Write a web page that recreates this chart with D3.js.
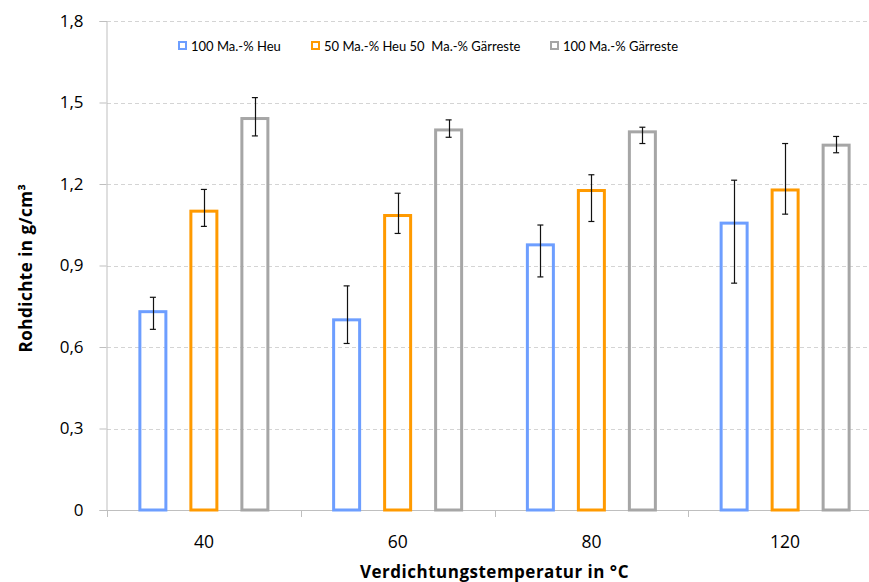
<!DOCTYPE html>
<html>
<head>
<meta charset="utf-8">
<script src="https://cdn.jsdelivr.net/npm/d3@7"></script>
<style>
  body { margin: 0; background: #fff; overflow: hidden; }
  svg { font-family: "Open Sans", Lato, sans-serif; display: block; }
</style>
</head>
<body>
<div id="chart"></div>
<script>
// data
var categories = ["40", "60", "80", "120"];
var seriesNames = ["100 Ma.-% Heu", "50 Ma.-% Heu 50  Ma.-% Gärreste", "100 Ma.-% Gärreste"];
var heu      = [0.73, 0.70, 0.976, 1.056];
var mix      = [1.10, 1.084, 1.176, 1.178];
var gaerrest = [1.441, 1.399, 1.392, 1.343];
// error bar ends (lower / upper)
var heuLo      = [0.665, 0.613, 0.858, 0.835];
var heuHi      = [0.783, 0.825, 1.049, 1.214];
var mixLo      = [1.044, 1.018, 1.062, 1.089];
var mixHi      = [1.18, 1.166, 1.234, 1.349];
var gaerrestLo = [1.377, 1.372, 1.349, 1.315];
var gaerrestHi = [1.518, 1.436, 1.409, 1.375];
var yTicks = [0, 0.3, 0.6, 0.9, 1.2, 1.5, 1.8];
var colors = ["#6D9EFF", "#FF9A00", "#A6A6A6"];

var width = 869, height = 582;
var plotLeft = 107, plotRight = 882, plotTop = 21, plotBottom = 510;

var svg = d3.select("#chart").append("svg")
    .attr("width", width)
    .attr("height", height);

var x0 = d3.scaleBand().domain(categories).range([plotLeft, plotRight]);
var x1 = d3.scaleBand().domain(seriesNames).range([0, 153]);
var y = d3.scaleLinear().domain([0, 1.8]).range([plotBottom, plotTop]);

// gridlines
svg.append("g").selectAll("line")
    .data(yTicks.filter(function(d){ return d > 0; }))
    .enter().append("line")
    .attr("x1", plotLeft).attr("x2", plotRight)
    .attr("y1", function(d){ return Math.round(y(d)) + 0.5; })
    .attr("y2", function(d){ return Math.round(y(d)) + 0.5; })
    .style("stroke", "#D4D4D4")
    .style("stroke-dasharray", "4,3");

// y axis
var yAxis = d3.axisLeft(y)
    .tickValues(yTicks)
    .tickSize(7)
    .tickPadding(16)
    .tickFormat(function(d){ return d === 0 ? "0" : d3.format(".1f")(d).replace(".", ","); });
var ya = svg.append("g")
    .attr("transform", "translate(" + (plotLeft - 0.5) + ",0)")
    .call(yAxis);
ya.select(".domain").style("stroke", "#BFBFBF");
ya.selectAll(".tick line").style("stroke", "#BFBFBF");
ya.selectAll("text").style("font-size", "17px").style("fill", "#000")
    .style("font-family", "'Open Sans', sans-serif");

// x axis
var xa = svg.append("g")
    .attr("transform", "translate(0," + (plotBottom + 0.5) + ")")
    .call(d3.axisBottom(x0).tickSize(0).tickPadding(25));
xa.select(".domain").remove();
xa.selectAll("text").style("font-size", "17.5px").style("fill", "#000")
    .style("font-family", "'Open Sans', sans-serif");
svg.append("line")
    .attr("x1", plotLeft).attr("x2", plotRight)
    .attr("y1", plotBottom + 0.5).attr("y2", plotBottom + 0.5)
    .style("stroke", "#BFBFBF");
svg.append("g").selectAll("line")
    .data(d3.range(categories.length + 1))
    .enter().append("line")
    .attr("x1", function(i){ return Math.round(plotLeft + i * x0.step()) + 0.5; })
    .attr("x2", function(i){ return Math.round(plotLeft + i * x0.step()) + 0.5; })
    .attr("y1", plotBottom).attr("y2", plotBottom + 7)
    .style("stroke", "#BFBFBF");

// bars
var values = [heu, mix, gaerrest];
var los = [heuLo, mixLo, gaerrestLo];
var his = [heuHi, mixHi, gaerrestHi];
var barW = 26;

seriesNames.forEach(function(name, s){
    var g = svg.append("g");
    var cx = function(d, i){ return x0(categories[i]) + x0.bandwidth() / 2 - 76.5 + x1(name) + x1.bandwidth() / 2; };
    g.selectAll("rect")
        .data(values[s])
        .enter().append("rect")
        .attr("x", function(d, i){ return cx(d, i) - barW / 2; })
        .attr("y", function(d){ return y(d); })
        .attr("width", barW)
        .attr("height", function(d){ return plotBottom - y(d); })
        .style("fill", "none")
        .style("stroke", colors[s])
        .style("stroke-width", 3);

    // error bars
    g.selectAll(".err")
        .data(values[s])
        .enter().append("line")
        .attr("x1", function(d, i){ return Math.round(cx(d, i)) + 0.5; })
        .attr("x2", function(d, i){ return Math.round(cx(d, i)) + 0.5; })
        .attr("y1", function(d, i){ return y(los[s][i]); })
        .attr("y2", function(d, i){ return y(his[s][i]); })
        .style("stroke", "#111")
        .style("stroke-width", 1.2);
    [los[s], his[s]].forEach(function(arr){
        g.selectAll(null)
            .data(arr)
            .enter().append("line")
            .attr("x1", function(d, i){ return cx(d, i) - 3; })
            .attr("x2", function(d, i){ return cx(d, i) + 3; })
            .attr("y1", function(d){ return y(d); })
            .attr("y2", function(d){ return y(d); })
            .style("stroke", "#111")
            .style("stroke-width", 1.2);
    });
});

// legend
var legendX = [179, 312, 551];
var lg = svg.append("g");
seriesNames.forEach(function(name, s){
    lg.append("rect")
        .attr("x", legendX[s]).attr("y", 42)
        .attr("width", 7).attr("height", 7)
        .style("fill", "none")
        .style("stroke", colors[s])
        .style("stroke-width", 2);
    lg.append("text")
        .attr("x", legendX[s] + 12)
        .attr("y", 51)
        .style("font-family", "Lato, sans-serif")
        .style("font-size", "13px")
        .style("white-space", "pre")
        .text(name);
});

// axis titles
svg.append("text")
    .attr("x", (plotLeft + plotRight) / 2).attr("y", 578)
    .attr("text-anchor", "middle")
    .style("font-size", "17px")
    .style("letter-spacing", "0.5px")
    .style("font-weight", "bold")
    .text("Verdichtungstemperatur in °C");
svg.append("text")
    .attr("transform", "translate(32,268) rotate(-90)")
    .attr("text-anchor", "middle")
    .style("font-size", "17px")
    .style("letter-spacing", "0.5px")
    .style("font-weight", "bold")
    .text("Rohdichte in g/cm³");
</script>
</body>
</html>
